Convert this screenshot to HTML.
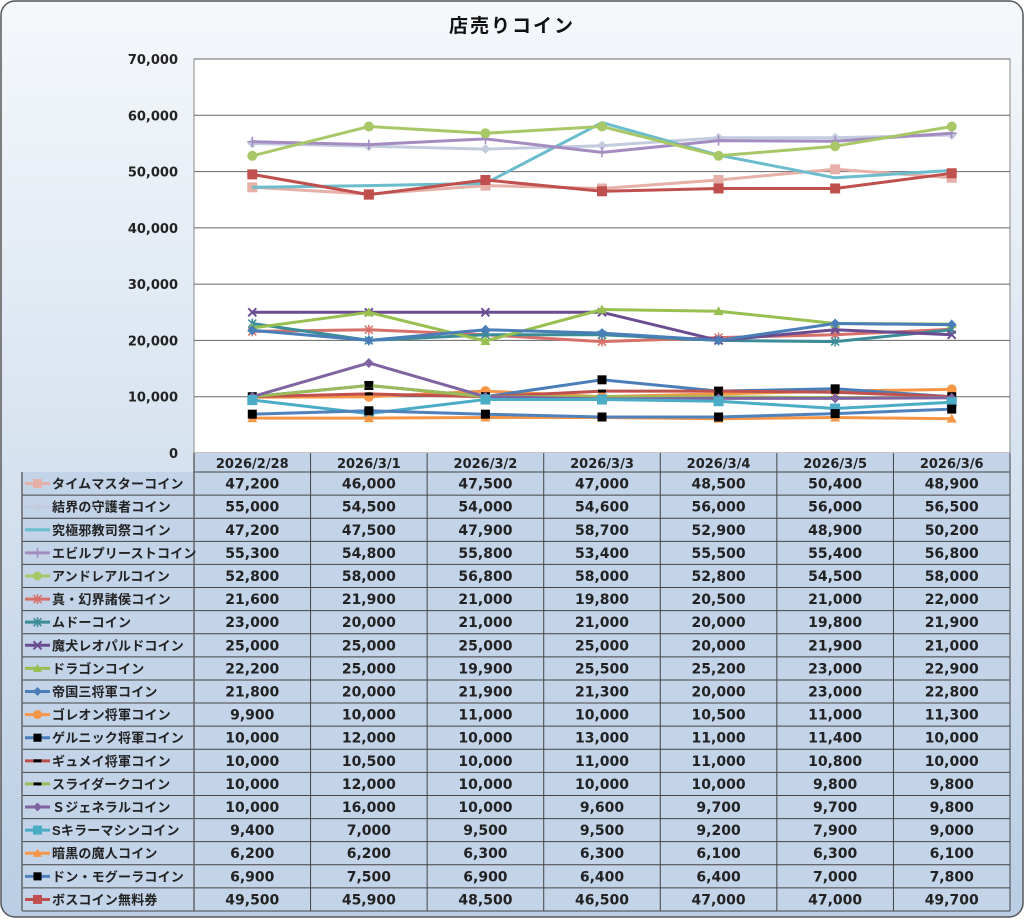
<!DOCTYPE html>
<html><head><meta charset="utf-8">
<style>
html,body{margin:0;padding:0;background:#fff;}
body{width:1024px;height:918px;overflow:hidden;}
svg text{font-family:"Liberation Sans","Noto Sans CJK JP",sans-serif;}
svg text.n{font-family:"DejaVu Sans","Liberation Sans",sans-serif;}
</style></head>
<body>
<svg id="s" width="1024" height="918" xmlns="http://www.w3.org/2000/svg">
<defs>
<linearGradient id="bg" x1="0" y1="0" x2="0" y2="1">
<stop offset="0" stop-color="#f5f8fb"/>
<stop offset="1" stop-color="#b9cde4"/>
</linearGradient>
</defs>
<rect x="1" y="1" width="1022" height="916" rx="14" ry="14" fill="url(#bg)" stroke="#555" stroke-width="1.5"/>
<text x="512" y="32" text-anchor="middle" font-size="19" font-weight="bold" fill="#111" letter-spacing="2">店売りコイン</text>
</svg>
<script>
var S=document.getElementById('s'),h='';
var L=194,R=1010,T=59,B=453,cw=(R-L)/7;
function Y(v){return B-(v/70000)*(B-T);}
function X(i){return L+cw*(i+0.5);}
h+='<rect x="'+L+'" y="'+T+'" width="'+(R-L)+'" height="'+(B-T)+'" fill="#fff" stroke="#888" stroke-width="1"/>';
for(var v=10000;v<=70000;v+=10000){var y=Y(v);h+='<line x1="'+L+'" x2="'+R+'" y1="'+y+'" y2="'+y+'" stroke="#666" stroke-width="1"/>';}
for(var v=0;v<=70000;v+=10000){h+='<text class="n" x="178" y="'+(Y(v)+5)+'" text-anchor="end" font-size="13" font-weight="bold" fill="#222">'+(v?v.toLocaleString('en-US'):'0')+'</text>';}
var dates=['2026/2/28','2026/3/1','2026/3/2','2026/3/3','2026/3/4','2026/3/5','2026/3/6'];
var D=[
['タイムマスターコイン','#e6b0a8','sq',[47200,46000,47500,47000,48500,50400,48900]],
['結界の守護者コイン','#c3cbde','dia',[55000,54500,54000,54600,56000,56000,56500]],
['究極邪教司祭コイン','#6bbccc','none',[47200,47500,47900,58700,52900,48900,50200]],
['エビルプリーストコイン','#a48cc0','plus',[55300,54800,55800,53400,55500,55400,56800]],
['アンドレアルコイン','#a8c868','cir',[52800,58000,56800,58000,52800,54500,58000]],
['真・幻界諸侯コイン','#d8706a','star',[21600,21900,21000,19800,20500,21000,22000]],
['ムドーコイン','#3c8c98','star',[23000,20000,21000,21000,20000,19800,21900]],
['魔犬レオパルドコイン','#6a4c90','x',[25000,25000,25000,25000,20000,21900,21000]],
['ドラゴンコイン','#98c050','tri',[22200,25000,19900,25500,25200,23000,22900]],
['帝国三将軍コイン','#4a7eb8','dia',[21800,20000,21900,21300,20000,23000,22800]],
['ゴレオン将軍コイン','#f79646','cir',[9900,10000,11000,10000,10500,11000,11300]],
['ゲルニック将軍コイン','#4a7eb8','bsq',[10000,12000,10000,13000,11000,11400,10000]],
['ギュメイ将軍コイン','#c0504d','dash',[10000,10500,10000,11000,11000,10800,10000]],
['スライダークコイン','#9bbb59','dash',[10000,12000,10000,10000,10000,9800,9800]],
['Ｓジェネラルコイン','#8064a2','dia',[10000,16000,10000,9600,9700,9700,9800]],
['Sキラーマシンコイン','#4bacc6','sq',[9400,7000,9500,9500,9200,7900,9000]],
['暗黒の魔人コイン','#f79646','tri',[6200,6200,6300,6300,6100,6300,6100]],
['ドン・モグーラコイン','#4f81bd','bsq',[6900,7500,6900,6400,6400,7000,7800]],
['ボスコイン無料券','#c0504d','sq',[49500,45900,48500,46500,47000,47000,49700]]
];
function mk(t,c,x,y,s){s=s||1;
 switch(t){
 case 'sq':return '<rect x="'+(x-5*s)+'" y="'+(y-5*s)+'" width="'+10*s+'" height="'+10*s+'" fill="'+c+'"/>';
 case 'bsq':return '<rect x="'+(x-4.5*s)+'" y="'+(y-4.5*s)+'" width="'+9*s+'" height="'+9*s+'" fill="#000"/>';
 case 'dia':return '<polygon points="'+x+','+(y-5*s)+' '+(x+5*s)+','+y+' '+x+','+(y+5*s)+' '+(x-5*s)+','+y+'" fill="'+c+'"/>';
 case 'cir':return '<circle cx="'+x+'" cy="'+y+'" r="'+5*s+'" fill="'+c+'"/>';
 case 'tri':return '<polygon points="'+x+','+(y-5*s)+' '+(x+5*s)+','+(y+4*s)+' '+(x-5*s)+','+(y+4*s)+'" fill="'+c+'"/>';
 case 'plus':return '<path d="M'+(x-5)+' '+y+'H'+(x+5)+'M'+x+' '+(y-5)+'V'+(y+5)+'" stroke="'+c+'" stroke-width="1.5"/>';
 case 'x':return '<path d="M'+(x-4)+' '+(y-4)+'L'+(x+4)+' '+(y+4)+'M'+(x-4)+' '+(y+4)+'L'+(x+4)+' '+(y-4)+'" stroke="'+c+'" stroke-width="2"/>';
 case 'star':return '<path d="M'+(x-4)+' '+(y-4)+'L'+(x+4)+' '+(y+4)+'M'+(x-4)+' '+(y+4)+'L'+(x+4)+' '+(y-4)+'M'+x+' '+(y-5)+'V'+(y+5)+'" stroke="'+c+'" stroke-width="1.5"/>';
 case 'dash':return '<rect x="'+(x-4)+'" y="'+(y-1.5)+'" width="8" height="3" fill="#000"/>';
 }return '';}
D.forEach(function(d){
 var p=d[3].map(function(v,i){return X(i).toFixed(1)+','+Y(v).toFixed(1);}).join(' ');
 h+='<polyline points="'+p+'" fill="none" stroke="'+d[1]+'" stroke-width="3" stroke-linejoin="round"/>';
 d[3].forEach(function(v,i){h+=mk(d[2],d[1],X(i),Y(v));});
});
var hT=453,hB=472,rh=(911-472)/19,TL=22;
h+='<rect x="'+L+'" y="'+hT+'" width="'+(R-L)+'" height="'+(hB-hT)+'" fill="#c3d3e8"/>';
h+='<rect x="'+TL+'" y="'+hB+'" width="'+(R-TL)+'" height="'+(911-hB)+'" fill="#c3d3e8"/>';
h+='<line x1="'+L+'" x2="'+R+'" y1="'+hB+'" y2="'+hB+'" stroke="#444"/>';
for(var r=1;r<=19;r++){var y=hB+rh*r;h+='<line x1="'+TL+'" x2="'+R+'" y1="'+y+'" y2="'+y+'" stroke="#444"/>';}
h+='<line x1="'+TL+'" x2="'+TL+'" y1="'+hB+'" y2="911" stroke="#666" stroke-width="1.5"/>';
h+='<line x1="'+L+'" x2="'+L+'" y1="'+hT+'" y2="911" stroke="#666" stroke-width="1.5"/>';
for(var c=1;c<=7;c++){var x=L+cw*c;h+='<line x1="'+x+'" x2="'+x+'" y1="'+hT+'" y2="911" stroke="#444"/>';}
dates.forEach(function(d,i){h+='<text class="n" x="'+X(i)+'" y="'+(hT+15)+'" text-anchor="middle" font-size="13" font-weight="bold" fill="#222">'+d+'</text>';});
D.forEach(function(d,r){
 var yc=hB+rh*r+rh/2;
 h+='<line x1="25" x2="50" y1="'+yc+'" y2="'+yc+'" stroke="'+d[1]+'" stroke-width="3"/>';
 h+=mk(d[2],d[1],37.5,yc,0.9);
 h+='<text x="52" y="'+(yc+5)+'" font-size="13" font-weight="bold" fill="#222" letter-spacing="0.2">'+d[0]+'</text>';
 d[3].forEach(function(v,i){h+='<text class="n" x="'+X(i)+'" y="'+(yc+5)+'" text-anchor="middle" font-size="14" font-weight="bold" fill="#222">'+v.toLocaleString('en-US')+'</text>';});
});
S.insertAdjacentHTML('beforeend',h);
</script>
</body></html>
